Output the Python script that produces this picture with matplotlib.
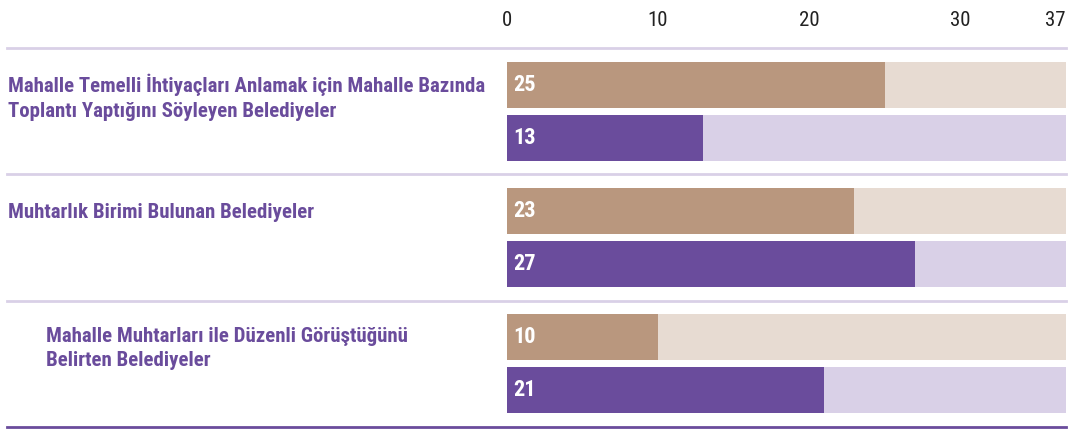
import matplotlib.pyplot as plt
from matplotlib.font_manager import fontManager

labels = [
    "Mahalle Temelli İhtiyaçları Anlamak için Mahalle Bazında\nToplantı Yaptığını Söyleyen Belediyeler",
    "Muhtarlık Birimi Bulunan Belediyeler",
    "Mahalle Muhtarları ile Düzenli Görüştüğünü\nBelirten Belediyeler",
]
tan_values = [25, 23, 10]
purple_values = [13, 27, 21]
total = 37
ticks = [0, 10, 20, 30, 37]

names = {f.name for f in fontManager.ttflist}
font = "Lato"
for cand in ["Roboto Condensed", "Open Sans Condensed", "Lato"]:
    if cand in names:
        font = cand
        break
plt.rcParams['font.family'] = [font, 'DejaVu Sans']

tan, tan_bg = "#b9977e", "#e7dbd2"
purple, purple_bg = "#6a4c9c", "#d9d0e7"

fig = plt.figure(figsize=(10.69, 4.30), dpi=100)
ax = fig.add_axes([507 / 1069, 3 / 430, 559 / 1069, 379 / 430])

h = 0.364
off = 0.211
for i in range(len(labels)):
    ax.barh(i - off, total, height=h, color=tan_bg)
    ax.barh(i - off, tan_values[i], height=h, color=tan)
    ax.barh(i + off, total, height=h, color=purple_bg)
    ax.barh(i + off, purple_values[i], height=h, color=purple)
    ax.text(0.4, i - off, str(tan_values[i]), color="white", fontsize=16,
            fontweight="bold", va="center", ha="left")
    ax.text(0.4, i + off, str(purple_values[i]), color="white", fontsize=16,
            fontweight="bold", va="center", ha="left")

# etiketler
indent = [8, 8, 46]
for i, lab in enumerate(labels):
    x = (indent[i] - 507) / 559
    two = "\n" in lab
    ax.annotate(lab, xy=(x, i - off), xycoords=("axes fraction", "data"),
                color=purple, fontsize=15, fontweight="bold",
                va="top" if two else "center", ha="left", linespacing=1.35,
                xytext=(0, 7.5 if two else -1), textcoords="offset points",
                annotation_clip=False)

# ayırıcı çizgiler
xmin = (7 - 507) / 559
for j in range(len(labels)):
    ax.axhline(j - 0.5, xmin=xmin, xmax=1, color=purple_bg, lw=2, clip_on=False)
ax.axhline(len(labels) - 0.5, xmin=xmin, xmax=1, color=purple, lw=2, clip_on=False)

ax.set_xlim(0, total)
ax.set_ylim(len(labels) - 0.5, -0.5)
ax.xaxis.tick_top()
ax.set_xticks(ticks)
ax.set_xticklabels([str(t) for t in ticks], fontsize=15, color="#222222")
ax.get_xticklabels()[-1].set_ha("right")
ax.tick_params(axis="x", length=0, pad=13)
ax.set_yticks([])
for s in ax.spines.values():
    s.set_visible(False)

fig.savefig("out.png", dpi=100)
